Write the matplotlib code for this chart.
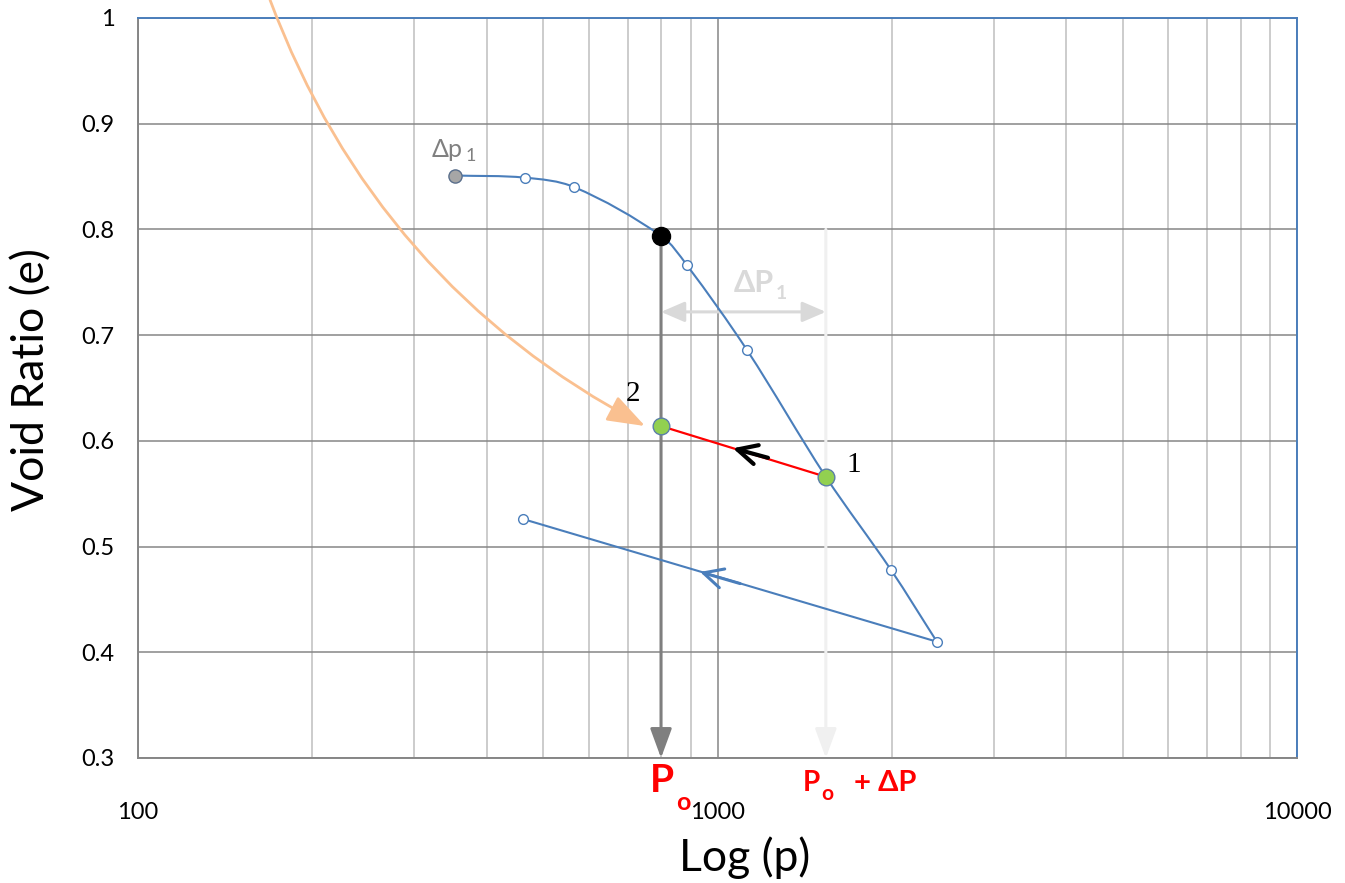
import numpy as np
import matplotlib
matplotlib.use("Agg")
import matplotlib.pyplot as plt
from matplotlib.path import Path
from matplotlib.patches import PathPatch
from matplotlib.ticker import FixedLocator, NullFormatter

plt.rcParams["font.family"] = ["Lato", "DejaVu Sans"]

# loading curve
p_load = [352, 465, 566, 799, 886, 1124, 1538, 1992, 2391]
e_load = [0.851, 0.849, 0.840, 0.794, 0.766, 0.686, 0.566, 0.478, 0.410]
# unloading branch
p_unload = [2391, 462]
e_unload = [0.410, 0.526]
# key points
p_o, e_o = 799, 0.794          # P_o on the curve
p_1, e_1 = 1538, 0.566         # point 1 (P_o + dP)
p_2, e_2 = 799, 0.614          # point 2

y_ticks = [0.3, 0.4, 0.5, 0.6, 0.7, 0.8, 0.9, 1.0]
y_ticklabels = ["0.3", "0.4", "0.5", "0.6", "0.7", "0.8", "0.9", "1"]
x_ticks = [100, 1000, 10000]
x_ticklabels = ["100", "1000", "10000"]

BLUE = "#4a7ebb"
MAJ = "#868686"
MIN = "#bfbfbf"
ORANGE = "#fac090"
GREEN = "#92d050"

W, H = 1345, 883
AX_L, AX_B, AX_W, AX_H = 138, 125, 1159, 740   # pixels

fig = plt.figure(figsize=(W / 100, H / 100), dpi=100)
ax = fig.add_axes([AX_L / W, AX_B / H, AX_W / W, AX_H / H])
ax.set_xscale("log")
ax.set_xlim(100, 10000)
ax.set_ylim(0.3, 1.0)

# grid
ax.xaxis.set_major_locator(FixedLocator(x_ticks))
ax.set_xticklabels(x_ticklabels)
minors = [m * d for d in (100, 1000) for m in range(2, 10)]
ax.xaxis.set_minor_locator(FixedLocator(minors))
ax.xaxis.set_minor_formatter(NullFormatter())
ax.set_yticks(y_ticks)
ax.set_yticklabels(y_ticklabels)
ax.grid(which="major", color=MAJ, lw=1.1, zorder=0)
ax.grid(which="minor", axis="x", color=MIN, lw=1.1, zorder=0)
ax.set_axisbelow(True)
ax.tick_params(which="both", length=0)
ax.tick_params(axis="x", pad=32, labelsize=17)
ax.tick_params(axis="y", pad=17, labelsize=17)
for s in ("left", "bottom"):
    ax.spines[s].set_color(MAJ)
    ax.spines[s].set_linewidth(1.4)
for s in ("top", "right"):
    ax.spines[s].set_color(BLUE)
    ax.spines[s].set_linewidth(1.4)

ax.set_ylabel("Void Ratio (e)", fontsize=32, va="center")
ax.yaxis.set_label_coords(-0.092, 0.512)
ax.set_xlabel("Log (p)", fontsize=32, va="center")
ax.xaxis.set_label_coords(0.523, -0.135)

# smooth loading curve: Bezier through the points, tangents taken in screen space
sx = AX_W / 2.0      # px per decade
sy = AX_H / 0.7      # px per unit e
P = np.column_stack([np.log10(p_load) * sx, np.array(e_load) * sy])
n = len(P)
tang = []
for i in range(n):
    d = P[min(i + 1, n - 1)] - P[max(i - 1, 0)]
    tang.append(d / np.hypot(*d))
verts = [P[0]]
codes = [Path.MOVETO]
for i in range(n - 1):
    L = np.hypot(*(P[i + 1] - P[i])) / 3
    verts += [P[i] + tang[i] * L, P[i + 1] - tang[i + 1] * L, P[i + 1]]
    codes += [Path.CURVE4] * 3
verts = np.array(verts)
verts = np.column_stack([10 ** (verts[:, 0] / sx), verts[:, 1] / sy])
ax.add_patch(PathPatch(Path(verts, codes), fill=False, ec=BLUE, lw=1.5, zorder=4))

# unloading branch
ax.plot(p_unload, e_unload, color=BLUE, lw=1.5, zorder=4)
ax.annotate("", xy=(933, 0.476), xytext=(1094, 0.465),
            arrowprops=dict(arrowstyle="->,head_length=0.7,head_width=0.35", color=BLUE,
                            lw=2.2, shrinkA=0, shrinkB=0, mutation_scale=20), zorder=5)

# red line 1 -> 2 with black arrow
ax.plot([p_1, p_2], [e_1, e_2], color="red", lw=1.6, zorder=5)
ax.annotate("", xy=(1063, 0.593), xytext=(1222, 0.584),
            arrowprops=dict(arrowstyle="->,head_length=0.7,head_width=0.35", color="black",
                            lw=3, shrinkA=0, shrinkB=0, mutation_scale=20), zorder=6)

# vertical arrows down to the axis
ax.annotate("", xy=(p_o, 0.3), xytext=(p_o, e_o),
            arrowprops=dict(arrowstyle="-|>,head_length=0.6,head_width=0.22", color="#7f7f7f",
                            lw=2.2, shrinkA=0, shrinkB=0, mutation_scale=30), zorder=3)
ax.annotate("", xy=(p_1, 0.3), xytext=(p_1, 0.80),
            arrowprops=dict(arrowstyle="-|>,head_length=0.6,head_width=0.22", color="#f0f0f0",
                            lw=2.2, shrinkA=0, shrinkB=0, mutation_scale=30), zorder=3)
# horizontal dP arrow
ax.annotate("", xy=(p_1, 0.722), xytext=(p_o, 0.722),
            arrowprops=dict(arrowstyle="<|-|>,head_length=0.65,head_width=0.28", color="#d9d9d9",
                            lw=2.2, shrinkA=0, shrinkB=0, mutation_scale=22), zorder=3)

# orange curved arrow
ax.annotate("", xy=(750, 0.614), xytext=(169, 1.017),
            arrowprops=dict(arrowstyle="-|>,head_length=0.9,head_width=0.32", color=ORANGE,
                            lw=2, shrinkA=0, shrinkB=0, mutation_scale=26,
                            connectionstyle="arc3,rad=0.19"),
            annotation_clip=False, zorder=3)

# markers
ax.plot(p_load[1:3] + p_load[4:6] + p_load[7:], e_load[1:3] + e_load[4:6] + e_load[7:],
        ls="none", marker="o", ms=7, mfc="white", mec=BLUE, mew=1, zorder=7)
ax.plot(p_unload[1:], e_unload[1:], ls="none", marker="o", ms=7, mfc="white", mec=BLUE,
        mew=1, zorder=7)
ax.plot([p_load[0]], [e_load[0]], ls="none", marker="o", ms=9.5, mfc="#a6a6a6",
        mec="#5a6f8c", mew=1, zorder=7)
ax.plot([p_o], [e_o], ls="none", marker="o", ms=13, mfc="black", mec="black", zorder=7)
ax.plot([p_1, p_2], [e_1, e_2], ls="none", marker="o", ms=12, mfc=GREEN, mec="#5b7fa8",
        mew=1, zorder=8)

# labels
ax.text(715, 0.644, "2", fontsize=21, family="Liberation Serif", ha="center", va="center")
ax.text(1720, 0.577, "1", fontsize=21, family="Liberation Serif", ha="center", va="center")
ax.text(342, 0.876, "\u0394p", fontsize=18, color="#808080", ha="center", va="center")
ax.text(375, 0.869, "1", fontsize=13, color="#808080", ha="center", va="center")
ax.text(1157, 0.749, "\u0394P", fontsize=22, color="#d9d9d9", weight="bold",
        ha="center", va="center")
ax.text(1289, 0.739, "1", fontsize=14, color="#d9d9d9", weight="bold",
        ha="center", va="center")

kw = dict(xycoords=("data", "axes fraction"), textcoords="offset pixels",
          color="red", weight="bold", ha="center", va="center", annotation_clip=False)
ax.annotate("P", xy=(p_o, 0), xytext=(1, -23), fontsize=28, **kw)
ax.annotate("o", xy=(p_o, 0), xytext=(22, -44), fontsize=18, **kw)
ax.annotate("P", xy=(p_1, 0), xytext=(-14, -25), fontsize=20, **kw)
ax.annotate("o", xy=(p_1, 0), xytext=(1, -36), fontsize=15, **kw)
ax.annotate("+ \u0394P", xy=(p_1, 0), xytext=(59, -25), fontsize=21, **kw)

fig.savefig("out.png", dpi=100)
